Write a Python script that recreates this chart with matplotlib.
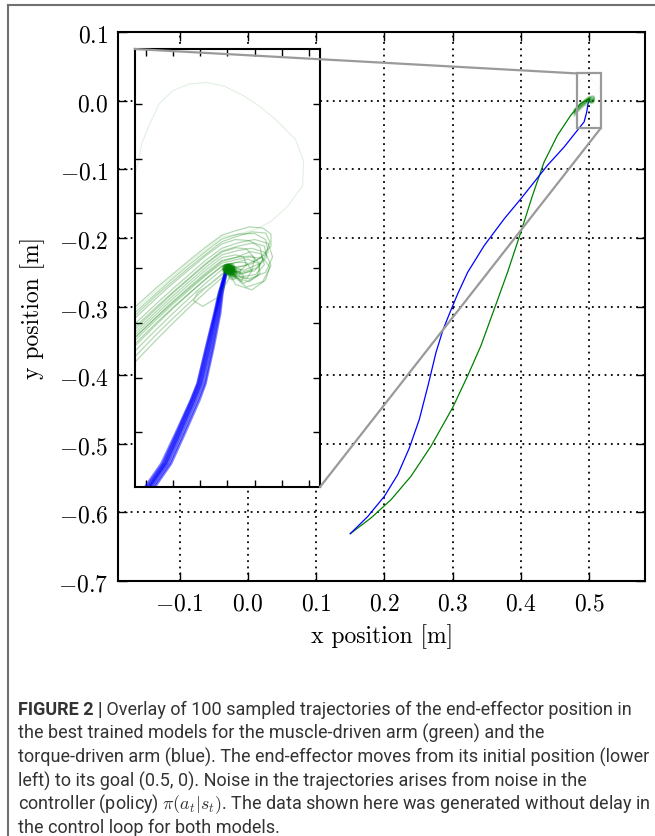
import matplotlib

matplotlib.use("Agg")
import matplotlib.pyplot as plt  # noqa: E402
from matplotlib.lines import Line2D  # noqa: E402
from matplotlib.patches import ConnectionPatch, Rectangle  # noqa: E402

plt.rcParams["mathtext.fontset"] = "cm"

# ----------------------------------------------------------------------------
# Data
# ----------------------------------------------------------------------------
# Mean paths from the start (lower left) to the goal.
GREEN_MAIN_X = [0.150, 0.1805, 0.2098, 0.239, 0.2683, 0.300, 0.322, 0.3415, 0.361,
                0.3805, 0.400, 0.4171, 0.4341, 0.4537, 0.4732, 0.4878, 0.5015]
GREEN_MAIN_Y = [-0.631, -0.608, -0.5814, -0.5473, -0.5034, -0.4474, -0.401, -0.357, -0.3036,
                -0.250, -0.1915, -0.1379, -0.0892, -0.0502, -0.021, -0.0039, 0.0044]
BLUE_MAIN_X = [0.150, 0.1756, 0.200, 0.2195, 0.2366, 0.2512, 0.2644, 0.2756, 0.2854, 0.2951,
               0.3073, 0.3220, 0.3463, 0.3756, 0.400, 0.4195, 0.439, 0.4634, 0.4829, 0.4927,
               0.4966, 0.4985, 0.500]
BLUE_MAIN_Y = [-0.631, -0.606, -0.5765, -0.545, -0.506, -0.4644, -0.4133, -0.3670, -0.3353, -0.3109,
               -0.2817, -0.2500, -0.2110, -0.1720, -0.1428, -0.1184, -0.094, -0.0673, -0.0429, -0.0307,
               -0.0161, -0.004, 0.0]

# Sampled muscle-driven trajectories near the goal (the inset view).
# Approach part shares the x samples; each trajectory then has its own overshoot tail.
GREEN_APPROACH_X = [0.478, 0.481, 0.484, 0.487, 0.490, 0.493, 0.496, 0.499]
GREEN_APPROACH_Y = [
    [-0.0119, -0.0090, -0.0063, -0.0036, -0.0011, 0.0014, 0.0038, 0.0060],
    [-0.0130, -0.0101, -0.0073, -0.0046, -0.0019, 0.0006, 0.0030, 0.0053],
    [-0.0140, -0.0111, -0.0083, -0.0055, -0.0028, -0.0003, 0.0022, 0.0044],
    [-0.0151, -0.0121, -0.0093, -0.0065, -0.0038, -0.0012, 0.0014, 0.0036],
    [-0.0162, -0.0132, -0.0103, -0.0074, -0.0046, -0.0020, 0.0006, 0.0029],
    [-0.0167, -0.0137, -0.0108, -0.0079, -0.0051, -0.0025, 0.0001, 0.0024],
    [-0.0172, -0.0142, -0.0113, -0.0084, -0.0056, -0.0030, -0.0004, 0.0019],
    [-0.0177, -0.0147, -0.0118, -0.0089, -0.0061, -0.0035, -0.0009, 0.0014],
    [-0.0182, -0.0152, -0.0123, -0.0094, -0.0066, -0.0040, -0.0014, 0.0009],
    [-0.0194, -0.0163, -0.0133, -0.0103, -0.0074, -0.0047, -0.0020, 0.0004],
    [-0.0205, -0.0173, -0.0142, -0.0112, -0.0083, -0.0055, -0.0028, -0.0003],
    [-0.0216, -0.0183, -0.0152, -0.0121, -0.0092, -0.0064, -0.0036, -0.0011],
    [-0.0227, -0.0194, -0.0162, -0.0131, -0.0101, -0.0072, -0.0044, -0.0018],
    [-0.0158, -0.0128, -0.0099, -0.0071, -0.0044, -0.0018, 0.0008, 0.0031],
    [-0.0175, -0.0146, -0.0118, -0.0090, -0.0063, -0.0037, -0.0012, 0.0012],
    [-0.0135, -0.0106, -0.0078, -0.0050, -0.0024, 0.0001, 0.0025, 0.0048],
    [-0.0190, -0.0159, -0.0129, -0.0100, -0.0072, -0.0046, -0.0021, 0.0003],
]
GREEN_TAIL_X = [
    [0.5015, 0.504, 0.5065, 0.508, 0.508, 0.506, 0.503, 0.5005],
    [0.502, 0.505, 0.507, 0.5075, 0.506, 0.503, 0.5005],
    [0.5015, 0.504, 0.506, 0.5065, 0.505, 0.5025, 0.5002],
    [0.502, 0.505, 0.5075, 0.5083, 0.507, 0.504, 0.501, 0.4998],
    [0.5015, 0.5035, 0.505, 0.5045, 0.5025, 0.5005],
    [0.502, 0.5045, 0.507, 0.508, 0.5065, 0.5035, 0.5008],
    [0.5015, 0.503, 0.5035, 0.502, 0.5003],
    [0.502, 0.5045, 0.506, 0.5055, 0.503, 0.5005],
    [0.5015, 0.504, 0.5065, 0.5078, 0.507, 0.5045, 0.5015, 0.500],
    [0.5015, 0.5035, 0.5045, 0.5035, 0.5015, 0.500],
    [0.5012, 0.5025, 0.5022, 0.5008],
    [0.5008, 0.500, 0.498, 0.4955, 0.4938, 0.4945, 0.4968, 0.499, 0.500],
    [0.5008, 0.502, 0.503, 0.5025, 0.5008],
    [0.502, 0.5048, 0.5068, 0.5072, 0.5055, 0.5025, 0.5003],
    [0.5018, 0.5042, 0.5062, 0.5068, 0.5052, 0.5025, 0.5004],
    [0.5018, 0.5045, 0.507, 0.5078, 0.507, 0.5045, 0.5015, 0.500],
    [0.5015, 0.5038, 0.5058, 0.506, 0.504, 0.5015, 0.500],
]
GREEN_TAIL_Y = [
    [0.0068, 0.0075, 0.0073, 0.0062, 0.0040, 0.0018, 0.0004, 0.0001],
    [0.0062, 0.0063, 0.0052, 0.0030, 0.0008, -0.0004, 0.0],
    [0.0052, 0.0050, 0.0038, 0.0015, -0.0005, -0.0010, -0.0001],
    [0.0046, 0.0052, 0.0045, 0.0020, -0.0008, -0.0020, -0.0012, 0.0],
    [0.0037, 0.0035, 0.0018, -0.0004, -0.0012, -0.0002],
    [0.0032, 0.0036, 0.0028, 0.0005, -0.0025, -0.0035, -0.0012],
    [0.0024, 0.0020, 0.0005, -0.0008, -0.0002],
    [0.0020, 0.0022, 0.0008, -0.0015, -0.0028, -0.0006],
    [0.0015, 0.0020, 0.0018, 0.0002, -0.0022, -0.0040, -0.0030, -0.0003],
    [0.0010, 0.0010, -0.0005, -0.0020, -0.0015, 0.0],
    [0.0003, -0.0003, -0.0012, -0.0004],
    [-0.0008, -0.0025, -0.0055, -0.0070, -0.0060, -0.0045, -0.0030, -0.0012, 0.0],
    [-0.0010, -0.0005, -0.0015, -0.0025, -0.0008],
    [0.0040, 0.0046, 0.0040, 0.0020, 0.0000, -0.0008, 0.0],
    [0.0020, 0.0030, 0.0026, 0.0006, -0.0012, -0.0016, -0.0003],
    [0.0058, 0.0066, 0.0064, 0.0048, 0.0025, 0.0008, 0.0000, 0.0],
    [0.0010, 0.0016, 0.0008, -0.0010, -0.0025, -0.0018, 0.0],
]

# One sample overshoots far and loops back out of the zoomed window.
GREEN_LOOP_X = [0.478, 0.481, 0.484, 0.487, 0.490, 0.493, 0.496, 0.499, 0.502, 0.505, 0.508,
                0.511, 0.5138, 0.5140, 0.5125, 0.509, 0.506, 0.5029, 0.4995, 0.4962, 0.4930,
                0.490, 0.4875, 0.4858, 0.4843, 0.4836, 0.4825]
GREEN_LOOP_Y = [-0.0125, -0.0096, -0.0068, -0.0041, -0.0015, 0.0010, 0.0034, 0.0057, 0.0062,
                0.0070, 0.0085, 0.0112, 0.0150, 0.0195, 0.0235, 0.0270, 0.0295, 0.0315, 0.0332,
                0.0339, 0.0336, 0.0324, 0.0300, 0.0264, 0.0228, 0.0191, 0.0150]

# Sampled torque-driven trajectories near the goal (all share the same heights).
BLUE_NEAR_Y = [-0.0430, -0.0400, -0.0357, -0.0302, -0.0241, -0.0211, -0.0144, -0.0083, -0.0047, -0.0004, 0.0]
BLUE_NEAR_X = [
    [0.4834, 0.4852, 0.4882, 0.4907, 0.4934, 0.4946, 0.4962, 0.4977, 0.4985, 0.4997, 0.5000],
    [0.4838, 0.4856, 0.4886, 0.4911, 0.4938, 0.4950, 0.4966, 0.4979, 0.4986, 0.4998, 0.5000],
    [0.4840, 0.4858, 0.4888, 0.4913, 0.4940, 0.4952, 0.4968, 0.4981, 0.4987, 0.4998, 0.5000],
    [0.4842, 0.4860, 0.4890, 0.4915, 0.4942, 0.4954, 0.4970, 0.4983, 0.4988, 0.4998, 0.5000],
    [0.4846, 0.4864, 0.4894, 0.4919, 0.4946, 0.4958, 0.4973, 0.4985, 0.4990, 0.4999, 0.5000],
    [0.4830, 0.4849, 0.4879, 0.4905, 0.4933, 0.4945, 0.4961, 0.4976, 0.4984, 0.4997, 0.5000],
    [0.4850, 0.4867, 0.4897, 0.4922, 0.4949, 0.4960, 0.4975, 0.4987, 0.4991, 0.4999, 0.5000],
    [0.4836, 0.4855, 0.4884, 0.4909, 0.4936, 0.4948, 0.4964, 0.4978, 0.4986, 0.4998, 0.5000],
]

XTICKS = [-0.1, 0.0, 0.1, 0.2, 0.3, 0.4, 0.5]
XTICK_LABELS = ["$-0.1$", "$0.0$", "$0.1$", "$0.2$", "$0.3$", "$0.4$", "$0.5$"]
YTICKS = [-0.7, -0.6, -0.5, -0.4, -0.3, -0.2, -0.1, 0.0, 0.1]
YTICK_LABELS = ["$-0.7$", "$-0.6$", "$-0.5$", "$-0.4$", "$-0.3$", "$-0.2$", "$-0.1$", "$0.0$", "$0.1$"]
INSET_XTICKS = [0.485, 0.490, 0.495, 0.500, 0.505, 0.510, 0.515]
INSET_YTICKS = [-0.03, -0.02, -0.01, 0.0, 0.01, 0.02, 0.03]
INSET_XLIM = (0.483, 0.517)
INSET_YLIM = (-0.04, 0.04)

CAPTION_HEAD = "FIGURE 2 |"
CAPTION_LINES = [
    " Overlay of 100 sampled trajectories of the end-effector position in",
    "the best trained models for the muscle-driven arm (green) and the",
    "torque-driven arm (blue). The end-effector moves from its initial position (lower",
    "left) to its goal (0.5, 0). Noise in the trajectories arises from noise in the",
    r"controller (policy) $\pi(a_t|s_t)$. The data shown here was generated without delay in",
    "the control loop for both models.",
]

GREEN = (0.0, 0.5, 0.0)
BLUE = (0.0, 0.0, 1.0)
GRAY = "#9a9a9a"
W, H = 655, 837

green_traj = [(GREEN_APPROACH_X + tx, ay + ty)
              for ay, tx, ty in zip(GREEN_APPROACH_Y, GREEN_TAIL_X, GREEN_TAIL_Y)]

# ----------------------------------------------------------------------------
# Figure
# ----------------------------------------------------------------------------
fig = plt.figure(figsize=(W / 100, H / 100), dpi=100)

ax = fig.add_axes([118.3 / W, 1 - 582 / H, (645 - 118.3) / W, (582 - 33.3) / H])
ax.set_xlim(-0.19, 0.582)
ax.set_ylim(-0.7, 0.1)
ax.plot(GREEN_MAIN_X, GREEN_MAIN_Y, color=GREEN, lw=0.9)
ax.plot(BLUE_MAIN_X, BLUE_MAIN_Y, color=BLUE, lw=0.9)
for gx, gy in green_traj:
    ax.plot(gx, gy, color=GREEN, lw=0.8, alpha=0.2)
ax.plot(GREEN_LOOP_X, GREEN_LOOP_Y, color=GREEN, lw=0.6, alpha=0.05)
ax.set_xticks(XTICKS)
ax.set_xticklabels(XTICK_LABELS)
ax.set_yticks(YTICKS)
ax.set_yticklabels(YTICK_LABELS)
ax.tick_params(direction="in", top=True, right=True, length=6.5, width=1, labelsize=17, pad=7)
ax.grid(True, color="black", linestyle=(0, (1, 2.5)), lw=1.3)
for s in ax.spines.values():
    s.set_linewidth(1.5)
ax.set_xlabel("x position [m]", fontfamily="cmr10", fontsize=17, labelpad=6)
ax.set_ylabel("y position [m]", fontfamily="cmr10", fontsize=17, labelpad=10)

ax.add_patch(Rectangle((INSET_XLIM[0], INSET_YLIM[0]), INSET_XLIM[1] - INSET_XLIM[0],
                       INSET_YLIM[1] - INSET_YLIM[0], fill=False, ec=GRAY, lw=1.6, zorder=4))

# zoomed inset (x8)
axins = fig.add_axes([134.7 / W, 1 - 488 / H, (320 - 134.7) / W, (488 - 50) / H])
axins.set_xlim(*INSET_XLIM)
axins.set_ylim(*INSET_YLIM)
for bx in BLUE_NEAR_X:
    axins.plot(bx, BLUE_NEAR_Y, color=BLUE, lw=1.8, alpha=0.5)
for gx, gy in green_traj:
    axins.plot(gx, gy, color=GREEN, lw=0.9, alpha=0.3)
axins.plot(GREEN_LOOP_X, GREEN_LOOP_Y, color=GREEN, lw=0.8, alpha=0.12)
# trajectory end points pile up on the goal
axins.plot([t[0][-1] for t in green_traj], [t[1][-1] for t in green_traj],
           "o", color=GREEN, ms=7, alpha=0.3, mec="none")
axins.set_xticks(INSET_XTICKS)
axins.set_yticks(INSET_YTICKS)
axins.tick_params(direction="in", top=True, right=True, length=5, width=1,
                  labelbottom=False, labelleft=False)
for s in axins.spines.values():
    s.set_linewidth(1.5)

for xy_a, xy_b in [((INSET_XLIM[0], INSET_YLIM[1]), (0, 1)), ((INSET_XLIM[1], INSET_YLIM[0]), (1, 0))]:
    con = ConnectionPatch(xyA=xy_a, coordsA=ax.transData, xyB=xy_b, coordsB=axins.transAxes,
                          color=GRAY, lw=1.6, zorder=5)
    fig.add_artist(con)

# page frame
fig.add_artist(Line2D([7.5 / W, 1.0], [1 - 6 / H, 1 - 6 / H], transform=fig.transFigure, color="#707070", lw=1.5))
fig.add_artist(Line2D([7.5 / W, 7.5 / W], [1 - 6 / H, 0.0], transform=fig.transFigure, color="#707070", lw=1.5))

# caption
cap_font = ["Liberation Sans Narrow", "Roboto", "DejaVu Sans"]
cap_y = [710, 733.5, 757, 781, 804, 827.5]
head = fig.text(18 / W, 1 - cap_y[0] / H, CAPTION_HEAD, fontsize=13, fontweight="bold",
                family=cap_font, color="#333333", va="center")
fig.canvas.draw()
bb = head.get_window_extent(renderer=fig.canvas.get_renderer())
for i, line in enumerate(CAPTION_LINES):
    x0 = bb.x1 / W if i == 0 else 18 / W
    fig.text(x0, 1 - cap_y[i] / H, line, fontsize=13, family=cap_font, color="#333333", va="center")

fig.savefig("out.png", dpi=100)
